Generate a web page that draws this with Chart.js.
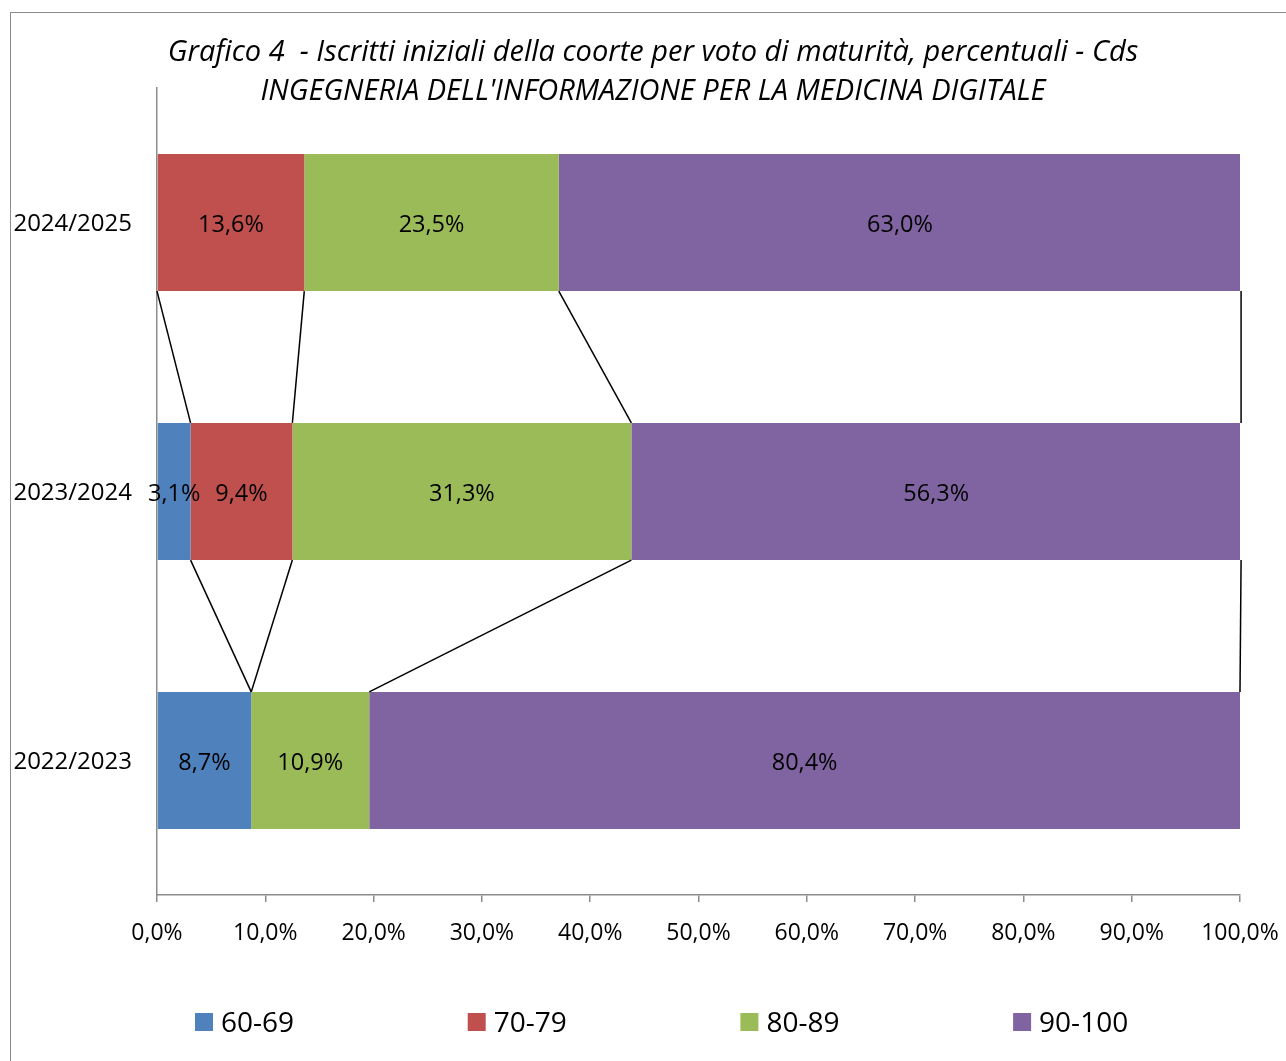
<!DOCTYPE html>
<html>
<head>
<meta charset="utf-8">
<script src="https://cdn.jsdelivr.net/npm/chart.js@4.4.0/dist/chart.umd.min.js"></script>
<style>
  html, body { margin: 0; padding: 0; background: #fff; overflow: hidden; }
  #wrap { position: absolute; left: 0; top: 0; width: 1286px; height: 1061px; }
  #frame { position: absolute; left: 10px; top: 12px; width: 1400px; height: 1200px; border: 1.5px solid #8c8c8c; box-sizing: border-box; pointer-events: none; }
</style>
</head>
<body>
<div id="wrap">
  <canvas id="c" width="1286" height="1061"></canvas>
  <div id="frame"></div>
</div>
<script>
// ---- data ----
const categories = ['2024/2025', '2023/2024', '2022/2023'];
const seriesNames = ['60-69', '70-79', '80-89', '90-100'];
const v60_69  = [0,    3.1,  8.7];
const v70_79  = [13.6, 9.4,  0];
const v80_89  = [23.5, 31.3, 10.9];
const v90_100 = [63.0, 56.3, 80.4];
const xTicks = [0, 10, 20, 30, 40, 50, 60, 70, 80, 90, 100];
const titleLines = [
  "Grafico 4  - Iscritti iniziali della coorte per voto di maturità, percentuali - Cds",
  "INGEGNERIA DELL'INFORMAZIONE PER LA MEDICINA DIGITALE"
];

const colors = ['#4F81BD', '#C0504D', '#9BBB59', '#8064A2'];
const FONT = "'Open Sans', 'Liberation Sans', sans-serif";
const fmt = v => v.toFixed(1).replace('.', ',') + '%';

const seriesValues = [v60_69, v70_79, v80_89, v90_100];

const titlePlugin = {
  id: 'titlePlugin',
  afterDraw(chart) {
    const ctx = chart.ctx;
    ctx.save();
    ctx.fillStyle = '#000';
    ctx.textAlign = 'center';
    ctx.textBaseline = 'middle';
    ctx.font = "italic 29px " + FONT;
    ctx.fillText(titleLines[0], 653, 53);
    ctx.fillText(titleLines[1], 653, 92);
    ctx.restore();
  }
};

const seriesLinesPlugin = {
  id: 'seriesLines',
  afterDatasetsDraw(chart) {
    const ctx = chart.ctx;
    ctx.save();
    ctx.strokeStyle = '#000';
    ctx.lineWidth = 1.5;
    chart.data.datasets.forEach((ds, i) => {
      const meta = chart.getDatasetMeta(i);
      for (let j = 0; j < meta.data.length - 1; j++) {
        const a = meta.data[j], b = meta.data[j + 1];
        ctx.beginPath();
        ctx.moveTo(a.x, a.y + a.height / 2);
        ctx.lineTo(b.x, b.y - b.height / 2);
        ctx.stroke();
      }
    });
    ctx.restore();
  }
};

const labelsPlugin = {
  id: 'barLabels',
  afterDatasetsDraw(chart) {
    const ctx = chart.ctx;
    ctx.save();
    ctx.fillStyle = '#000';
    ctx.textAlign = 'center';
    ctx.textBaseline = 'middle';
    ctx.font = "23.5px " + FONT;
    chart.data.datasets.forEach((ds, i) => {
      const meta = chart.getDatasetMeta(i);
      meta.data.forEach((el, j) => {
        const v = ds.data[j];
        if (!v) return;
        ctx.fillText(fmt(v), (el.x + el.base) / 2, el.y + 3);
      });
    });
    ctx.restore();
  }
};

const legendPlugin = {
  id: 'customLegend',
  afterDraw(chart) {
    const ctx = chart.ctx;
    ctx.save();
    ctx.textAlign = 'left';
    ctx.textBaseline = 'middle';
    ctx.font = "28px " + FONT;
    chart.data.datasets.forEach((ds, i) => {
      const x0 = 195 + i * 272.7;
      ctx.fillStyle = ds.backgroundColor;
      ctx.fillRect(x0, 1013, 18, 18);
      ctx.fillStyle = '#000';
      ctx.fillText(ds.label, x0 + 26, 1024);
    });
    ctx.restore();
  }
};

new Chart(document.getElementById('c'), {
  type: 'bar',
  data: {
    labels: categories,
    datasets: seriesNames.map((name, i) => ({
      label: name,
      data: seriesValues[i],
      backgroundColor: colors[i],
      borderWidth: 0,
      barPercentage: 0.51,
      categoryPercentage: 1.0
    }))
  },
  options: {
    indexAxis: 'y',
    responsive: false,
    animation: false,
    devicePixelRatio: 1,
    layout: { padding: { left: 0, right: 46, top: 88, bottom: 0 } },
    plugins: {
      legend: { display: false },
      title: { display: false },
      tooltip: { enabled: false }
    },
    scales: {
      x: {
        stacked: true,
        min: 0,
        max: 100,
        afterBuildTicks(scale) { scale.ticks = xTicks.map(v => ({ value: v })); },
        afterFit(scale) { scale.height = 166; scale.paddingLeft = 0; scale.paddingRight = 0; },
        ticks: {
          color: '#000',
          font: { family: FONT, size: 23 },
          padding: 18,
          maxRotation: 0,
          autoSkip: false,
          callback: v => fmt(v)
        },
        grid: { drawOnChartArea: false, drawTicks: true, tickLength: 7, color: '#8c8c8c', lineWidth: 1.5 },
        border: { display: true, color: '#8c8c8c', width: 1.5 }
      },
      y: {
        stacked: true,
        afterFit(scale) { scale.width = 157; scale.paddingTop = 0; scale.paddingBottom = 0; },
        ticks: {
          color: '#000',
          font: { family: FONT, size: 24 },
          padding: 25,
          labelOffset: 2
        },
        grid: { display: false, drawTicks: false, tickLength: 0 },
        border: { display: true, color: '#8c8c8c', width: 1.5 }
      }
    }
  },
  plugins: [titlePlugin, seriesLinesPlugin, labelsPlugin, legendPlugin]
});
</script>
</body>
</html>
